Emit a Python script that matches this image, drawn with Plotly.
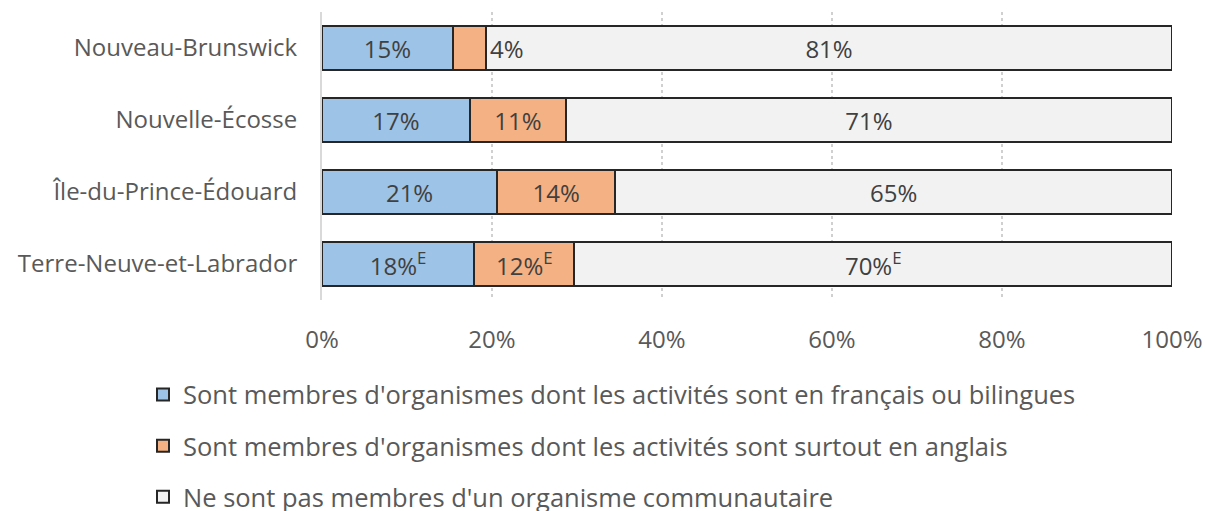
import plotly.graph_objects as go

provinces = ["Nouveau-Brunswick", "Nouvelle-Écosse", "Île-du-Prince-Édouard", "Terre-Neuve-et-Labrador"]
french_bilingual = [15.4, 17.4, 20.6, 17.9]
mostly_english = [3.9, 11.3, 13.9, 11.8]
not_members = [80.7, 71.3, 65.5, 70.3]
french_labels = ["15%", "17%", "21%", "18%<sup>E</sup>"]
english_labels = ["", "11%", "14%", "12%<sup>E</sup>"]
not_labels = ["81%", "71%", "65%", "70%<sup>E</sup>"]
series_names = [
    "Sont membres d'organismes dont les activités sont en français ou bilingues",
    "Sont membres d'organismes dont les activités sont surtout en anglais",
    "Ne sont pas membres d'un organisme communautaire",
]
colors = ["#9DC3E6", "#F4B183", "#F2F2F2"]
x_ticks = [0, 20, 40, 60, 80, 100]
x_tick_labels = ["0%", "20%", "40%", "60%", "80%", "100%"]

FONT = "Open Sans"
FS = 24
TXT = "#404040"
AX = "#595959"

fig = go.Figure()
for i, (vals, labels) in enumerate([(french_bilingual, french_labels), (mostly_english, english_labels), (not_members, not_labels)]):
    fig.add_trace(go.Bar(
        y=provinces, x=vals, orientation="h", name=series_names[i],
        marker=dict(color=colors[i], line=dict(color="#262626", width=2)),
        text=labels, textposition="inside", insidetextanchor="middle",
        textfont=dict(family=FONT, size=FS, color=TXT),
        width=0.61, legendgroup=str(i), hoverinfo="skip",
    ))

# small segment label placed just after the orange segment
fig.add_annotation(x=french_bilingual[0] + mostly_english[0], y=provinces[0], text="4%",
                   xanchor="left", xshift=2, showarrow=False,
                   font=dict(family=FONT, size=FS, color=TXT))

fig.update_layout(
    barmode="stack",
    width=1205, height=511,
    margin=dict(l=322, r=33, t=12, b=211, autoexpand=False),
    plot_bgcolor="white", paper_bgcolor="white",
    font=dict(family=FONT, size=FS, color=AX),
    uniformtext=dict(minsize=FS, mode="show"),
    xaxis=dict(range=[0, 100], tickvals=x_ticks, ticktext=x_tick_labels,
               showgrid=True, gridcolor="#D0D0D0", griddash="dot", gridwidth=1.5,
               zeroline=False, ticks="outside", ticklen=18, tickcolor="rgba(0,0,0,0)",
               tickfont=dict(family=FONT, size=FS, color=AX), fixedrange=True,
               automargin=False),
    yaxis=dict(categoryorder="array", categoryarray=provinces[::-1], range=[-0.5, 3.5],
               showline=True, linecolor="#D9D9D9", linewidth=2,
               ticks="outside", ticklen=18, tickcolor="rgba(0,0,0,0)",
               tickfont=dict(family=FONT, size=FS, color=AX), automargin=False,
               fixedrange=True),
    legend=dict(orientation="v", x=-0.2106, xanchor="left", y=-0.248, yanchor="top",
                traceorder="grouped", tracegroupgap=15,
                font=dict(family=FONT, size=25.5, color=AX),
                itemwidth=30),
    showlegend=True,
)

fig.write_html("out.html", config={"displayModeBar": False},
               post_script="document.body.style.margin='0px';document.body.style.overflow='hidden';")
